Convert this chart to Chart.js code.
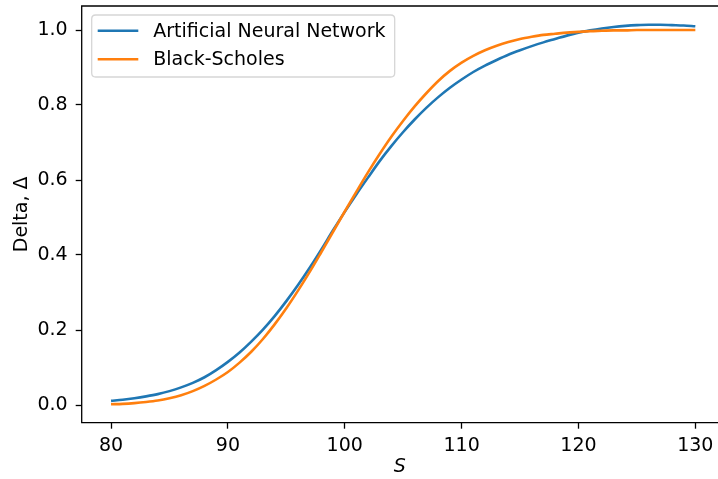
<!DOCTYPE html>
<html>
<head>
<meta charset="utf-8">
<script src="https://cdn.jsdelivr.net/npm/chart.js@4/dist/chart.umd.min.js"></script>
<style>
  html, body { margin: 0; padding: 0; background: #fff; }
  #wrap { width: 718px; height: 479px; position: relative; }
</style>
</head>
<body>
<div id="wrap"><canvas id="c" width="718" height="479"></canvas></div>
<script>
// Stock price S
const sValues = [80, 81, 82, 83, 84, 85, 86, 87, 88, 89, 90, 91, 92, 93, 94, 95, 96, 97, 98, 99,
  100, 101, 102, 103, 104, 105, 106, 107, 108, 109, 110, 111, 112, 113, 114, 115, 116, 117, 118, 119,
  120, 121, 122, 123, 124, 125, 126, 127, 128, 129, 130];
// Artificial Neural Network delta
const annDelta = [0.011, 0.014, 0.018, 0.023, 0.029, 0.037, 0.047, 0.059, 0.074, 0.093,
  0.115, 0.140, 0.169, 0.201, 0.237, 0.277, 0.320, 0.366, 0.415, 0.466,
  0.515, 0.562, 0.607, 0.651, 0.691, 0.728, 0.762, 0.793, 0.821, 0.846,
  0.868, 0.888, 0.905, 0.920, 0.934, 0.946, 0.957, 0.967, 0.976, 0.985,
  0.993, 0.999, 1.004, 1.008, 1.011, 1.013, 1.014, 1.014, 1.013, 1.012, 1.010];
// Black-Scholes delta
const bsDelta = [0.002, 0.003, 0.005, 0.008, 0.012, 0.018, 0.026, 0.037, 0.051, 0.068,
  0.088, 0.113, 0.142, 0.176, 0.215, 0.258, 0.305, 0.355, 0.408, 0.462,
  0.516, 0.569, 0.621, 0.670, 0.716, 0.758, 0.797, 0.832, 0.864, 0.891,
  0.913, 0.931, 0.946, 0.958, 0.968, 0.976, 0.982, 0.987, 0.990, 0.993,
  0.995, 0.997, 0.998, 0.999, 0.999, 1.000, 1.000, 1.000, 1.000, 1.000, 1.000];
const xTicks = [80, 90, 100, 110, 120, 130];
const yTicks = [0.0, 0.2, 0.4, 0.6, 0.8, 1.0];
const seriesLabels = ['Artificial Neural Network', 'Black-Scholes'];
const seriesColors = ['#1f77b4', '#ff7f0e'];

const FONT = 'DejaVu Sans';
const FS = 19;

const framePlugin = {
  id: 'frame',
  afterDatasetsDraw(chart) {
    const { ctx, chartArea: a } = chart;
    ctx.save();
    ctx.strokeStyle = '#000';
    ctx.lineWidth = 1.3;
    ctx.beginPath();
    ctx.moveTo(chart.width + 2, a.top);
    ctx.lineTo(a.left, a.top);
    ctx.lineTo(a.left, a.bottom);
    ctx.lineTo(chart.width + 2, a.bottom);
    ctx.stroke();
    ctx.restore();
  }
};

const legendPlugin = {
  id: 'mplLegend',
  afterDraw(chart) {
    const { ctx, chartArea: a } = chart;
    const x0 = a.left + 10, y0 = a.top + 9, w = 303, h = 62;
    ctx.save();
    ctx.beginPath();
    const r = 4;
    ctx.moveTo(x0 + r, y0);
    ctx.lineTo(x0 + w - r, y0); ctx.quadraticCurveTo(x0 + w, y0, x0 + w, y0 + r);
    ctx.lineTo(x0 + w, y0 + h - r); ctx.quadraticCurveTo(x0 + w, y0 + h, x0 + w - r, y0 + h);
    ctx.lineTo(x0 + r, y0 + h); ctx.quadraticCurveTo(x0, y0 + h, x0, y0 + h - r);
    ctx.lineTo(x0, y0 + r); ctx.quadraticCurveTo(x0, y0, x0 + r, y0);
    ctx.closePath();
    ctx.fillStyle = 'rgba(255,255,255,0.8)';
    ctx.fill();
    ctx.strokeStyle = '#d6d6d6';
    ctx.lineWidth = 1.3;
    ctx.stroke();
    ctx.font = FS + 'px ' + FONT;
    ctx.textBaseline = 'middle';
    ctx.fillStyle = '#000';
    chart.data.datasets.forEach((ds, i) => {
      const yy = y0 + 15.7 + i * 28.6;
      ctx.strokeStyle = ds.borderColor;
      ctx.lineWidth = 2.6;
      ctx.beginPath();
      ctx.moveTo(x0 + 6, yy);
      ctx.lineTo(x0 + 46.6, yy);
      ctx.stroke();
      ctx.fillText(ds.label, x0 + 61.6, yy + 1);
    });
    ctx.restore();
  }
};

new Chart(document.getElementById('c'), {
  type: 'line',
  data: {
    datasets: [
      {
        label: seriesLabels[0],
        data: sValues.map((s, i) => ({ x: s, y: annDelta[i] })),
        borderColor: seriesColors[0],
        backgroundColor: seriesColors[0],
        borderWidth: 2.6,
        pointRadius: 0,
        cubicInterpolationMode: 'monotone',
        fill: false,
        clip: false,
        order: 1
      },
      {
        label: seriesLabels[1],
        data: sValues.map((s, i) => ({ x: s, y: bsDelta[i] })),
        borderColor: seriesColors[1],
        backgroundColor: seriesColors[1],
        borderWidth: 2.6,
        pointRadius: 0,
        cubicInterpolationMode: 'monotone',
        fill: false,
        clip: false,
        order: 0
      }
    ]
  },
  options: {
    responsive: false,
    animation: false,
    devicePixelRatio: 1,
    layout: { padding: { top: 6, right: 0, left: 0, bottom: 0 } },
    plugins: { legend: { display: false }, tooltip: { enabled: false } },
    scales: {
      x: {
        type: 'linear',
        min: 77.49,
        max: 131.94,
        afterBuildTicks: (sc) => { sc.ticks = xTicks.map(v => ({ value: v })); },
        afterFit: (sc) => { sc.height = 56.3; sc.paddingLeft = 0; sc.paddingRight = 0; },
        ticks: {
          color: '#000',
          font: { family: FONT, size: FS },
          padding: 6,
          maxRotation: 0,
          autoSkip: false,
          callback: (v) => String(v)
        },
        grid: { drawOnChartArea: false, drawTicks: true, tickLength: 6, tickColor: '#000', tickWidth: 1.3 },
        border: { display: false },
        title: {
          display: true,
          text: 'S',
          color: '#000',
          font: { family: FONT, size: FS, style: 'italic' },
          padding: { top: 0, bottom: 0.5 }
        }
      },
      y: {
        type: 'linear',
        min: -0.0472,
        max: 1.064,
        afterBuildTicks: (sc) => { sc.ticks = yTicks.map(v => ({ value: v })); },
        afterFit: (sc) => { sc.width = 81.7; sc.paddingTop = 0; sc.paddingBottom = 0; },
        ticks: {
          color: '#000',
          font: { family: FONT, size: FS },
          padding: 8,
          autoSkip: false,
          callback: (v) => Number(v).toFixed(1)
        },
        grid: { drawOnChartArea: false, drawTicks: true, tickLength: 6, tickColor: '#000', tickWidth: 1.3 },
        border: { display: false },
        title: {
          display: true,
          text: 'Delta, Δ',
          color: '#000',
          font: { family: FONT, size: FS },
          padding: { top: 10.5, bottom: 0 }
        }
      }
    }
  },
  plugins: [framePlugin, legendPlugin]
});
</script>
</body>
</html>
